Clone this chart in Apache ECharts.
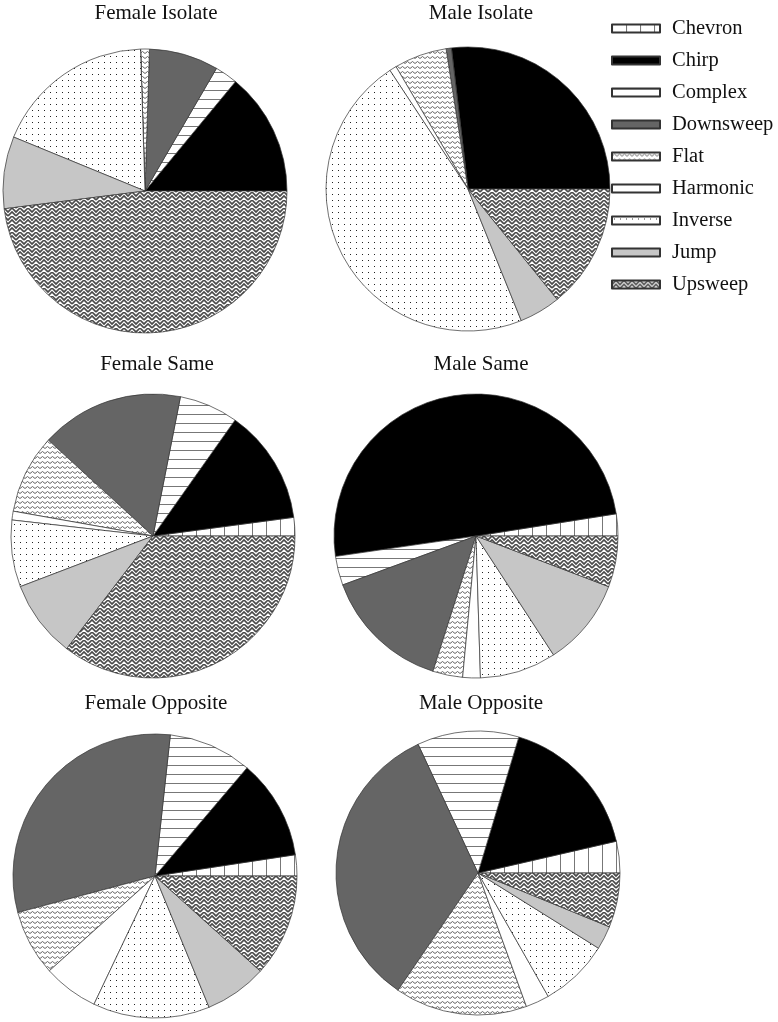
<!DOCTYPE html>
<html>
<head>
<meta charset="utf-8">
<script src="https://cdn.jsdelivr.net/npm/echarts@6/dist/echarts.min.js"></script>
<style>
  html, body { margin: 0; padding: 0; background: #fff; }
  #main { width: 778px; height: 1022px; }
</style>
</head>
<body>
<div id="main"></div>
<script>
// call types (legend order, slices go counter-clockwise from 3 o'clock)
var callTypes = ['Chevron', 'Chirp', 'Complex', 'Downsweep', 'Flat', 'Harmonic', 'Inverse', 'Jump', 'Upsweep'];

// percent of calls per group, same order as callTypes
var femaleIsolate = [0, 14.0, 2.6, 7.9, 1.0, 0, 18.3, 8.2, 48.0];
var maleIsolate = [0, 26.9, 0, 0.6, 6.0, 0.8, 46.9, 4.7, 14.2];
var femaleSame = [2.1, 13.1, 6.7, 16.3, 9.0, 1.0, 7.6, 8.8, 35.4];
var maleSame = [2.5, 49.8, 3.3, 14.5, 3.4, 2.0, 8.7, 10.0, 5.8];
var femaleOpposite = [2.4, 11.4, 9.5, 30.9, 7.5, 6.3, 13.3, 7.1, 11.7];
var maleOpposite = [3.6, 16.8, 11.6, 33.6, 15.1, 2.7, 7.9, 2.7, 6.2];

var panelTitles = ['Female Isolate', 'Male Isolate', 'Female Same', 'Male Same', 'Female Opposite', 'Male Opposite'];
var panelData = [femaleIsolate, maleIsolate, femaleSame, maleSame, femaleOpposite, maleOpposite];

// 画填充图案
function makeTile(w, h, draw) {
  var c = document.createElement('canvas');
  c.width = w;
  c.height = h;
  var ctx = c.getContext('2d');
  ctx.fillStyle = '#fff';
  ctx.fillRect(0, 0, w, h);
  draw(ctx);
  return { image: c, repeat: 'repeat' };
}

var fills = {
  Chevron: makeTile(14, 14, function (ctx) {
    ctx.strokeStyle = '#777';
    ctx.lineWidth = 1;
    ctx.beginPath();
    ctx.moveTo(0.5, 0); ctx.lineTo(0.5, 14);
    ctx.stroke();
  }),
  Chirp: '#000',
  Complex: makeTile(9, 9, function (ctx) {
    ctx.strokeStyle = '#777';
    ctx.lineWidth = 1;
    ctx.beginPath();
    ctx.moveTo(0, 0.5); ctx.lineTo(9, 0.5);
    ctx.stroke();
  }),
  Downsweep: '#656565',
  Flat: makeTile(5, 5, function (ctx) {
    ctx.strokeStyle = '#555';
    ctx.lineWidth = 0.9;
    ctx.beginPath();
    ctx.moveTo(0, 3.5); ctx.lineTo(2.5, 1.5); ctx.lineTo(5, 3.5);
    ctx.stroke();
  }),
  Harmonic: '#fff',
  Inverse: makeTile(6, 6, function (ctx) {
    ctx.fillStyle = '#222';
    ctx.fillRect(2, 2, 1, 1);
  }),
  Jump: '#c6c6c6',
  // herringbone-ish weave
  Upsweep: makeTile(8, 8, function (ctx) {
    ctx.strokeStyle = '#4a4a4a';
    ctx.lineWidth = 1.6;
    ctx.beginPath();
    ctx.moveTo(-1, 5); ctx.lineTo(4, 0); ctx.lineTo(9, 5);
    ctx.moveTo(-1, 9); ctx.lineTo(4, 4); ctx.lineTo(9, 9);
    ctx.moveTo(-1, 1); ctx.lineTo(0, 0);
    ctx.moveTo(8, 0); ctx.lineTo(9, 1);
    ctx.stroke();
  })
};

// 饼图位置
var centers = [[145, 191], [468, 189], [153, 536], [476, 536], [155, 876], [478, 873]];
var titlePos = [[151, -2], [476, -2], [152, 349], [476, 349], [151, 688], [476, 688]];

var chart = echarts.init(document.getElementById('main'));

var titles = [];
var series = [];
for (var i = 0; i < panelData.length; i++) {
  titles.push({
    text: panelTitles[i],
    left: titlePos[i][0],
    top: titlePos[i][1],
    textAlign: 'center',
    textStyle: {
      fontFamily: 'Liberation Serif',
      fontWeight: 'normal',
      fontSize: 21,
      color: '#111'
    }
  });
  var items = [];
  for (var j = 0; j < callTypes.length; j++) {
    items.push({
      name: callTypes[j],
      value: panelData[i][j],
      itemStyle: { color: fills[callTypes[j]] }
    });
  }
  series.push({
    name: panelTitles[i],
    type: 'pie',
    radius: 142,
    center: centers[i],
    startAngle: 0,
    clockwise: false,
    avoidLabelOverlap: false,
    label: { show: false },
    labelLine: { show: false },
    emphasis: { scale: false },
    itemStyle: {
      borderColor: '#333',
      borderWidth: 0.7
    },
    data: items
  });
}

var option = {
  animation: false,
  backgroundColor: '#fff',
  title: titles,
  legend: {
    orient: 'vertical',
    left: 606,
    top: 13,
    icon: 'rect',
    itemWidth: 48,
    itemHeight: 8,
    itemGap: 11,
    selectedMode: false,
    data: callTypes,
    textStyle: {
      fontFamily: 'Liberation Serif',
      fontSize: 20.5,
      lineHeight: 20,
      color: '#111',
      padding: [0, 0, 0, 7]
    }
  },
  series: series
};

chart.setOption(option);
</script>
</body>
</html>
